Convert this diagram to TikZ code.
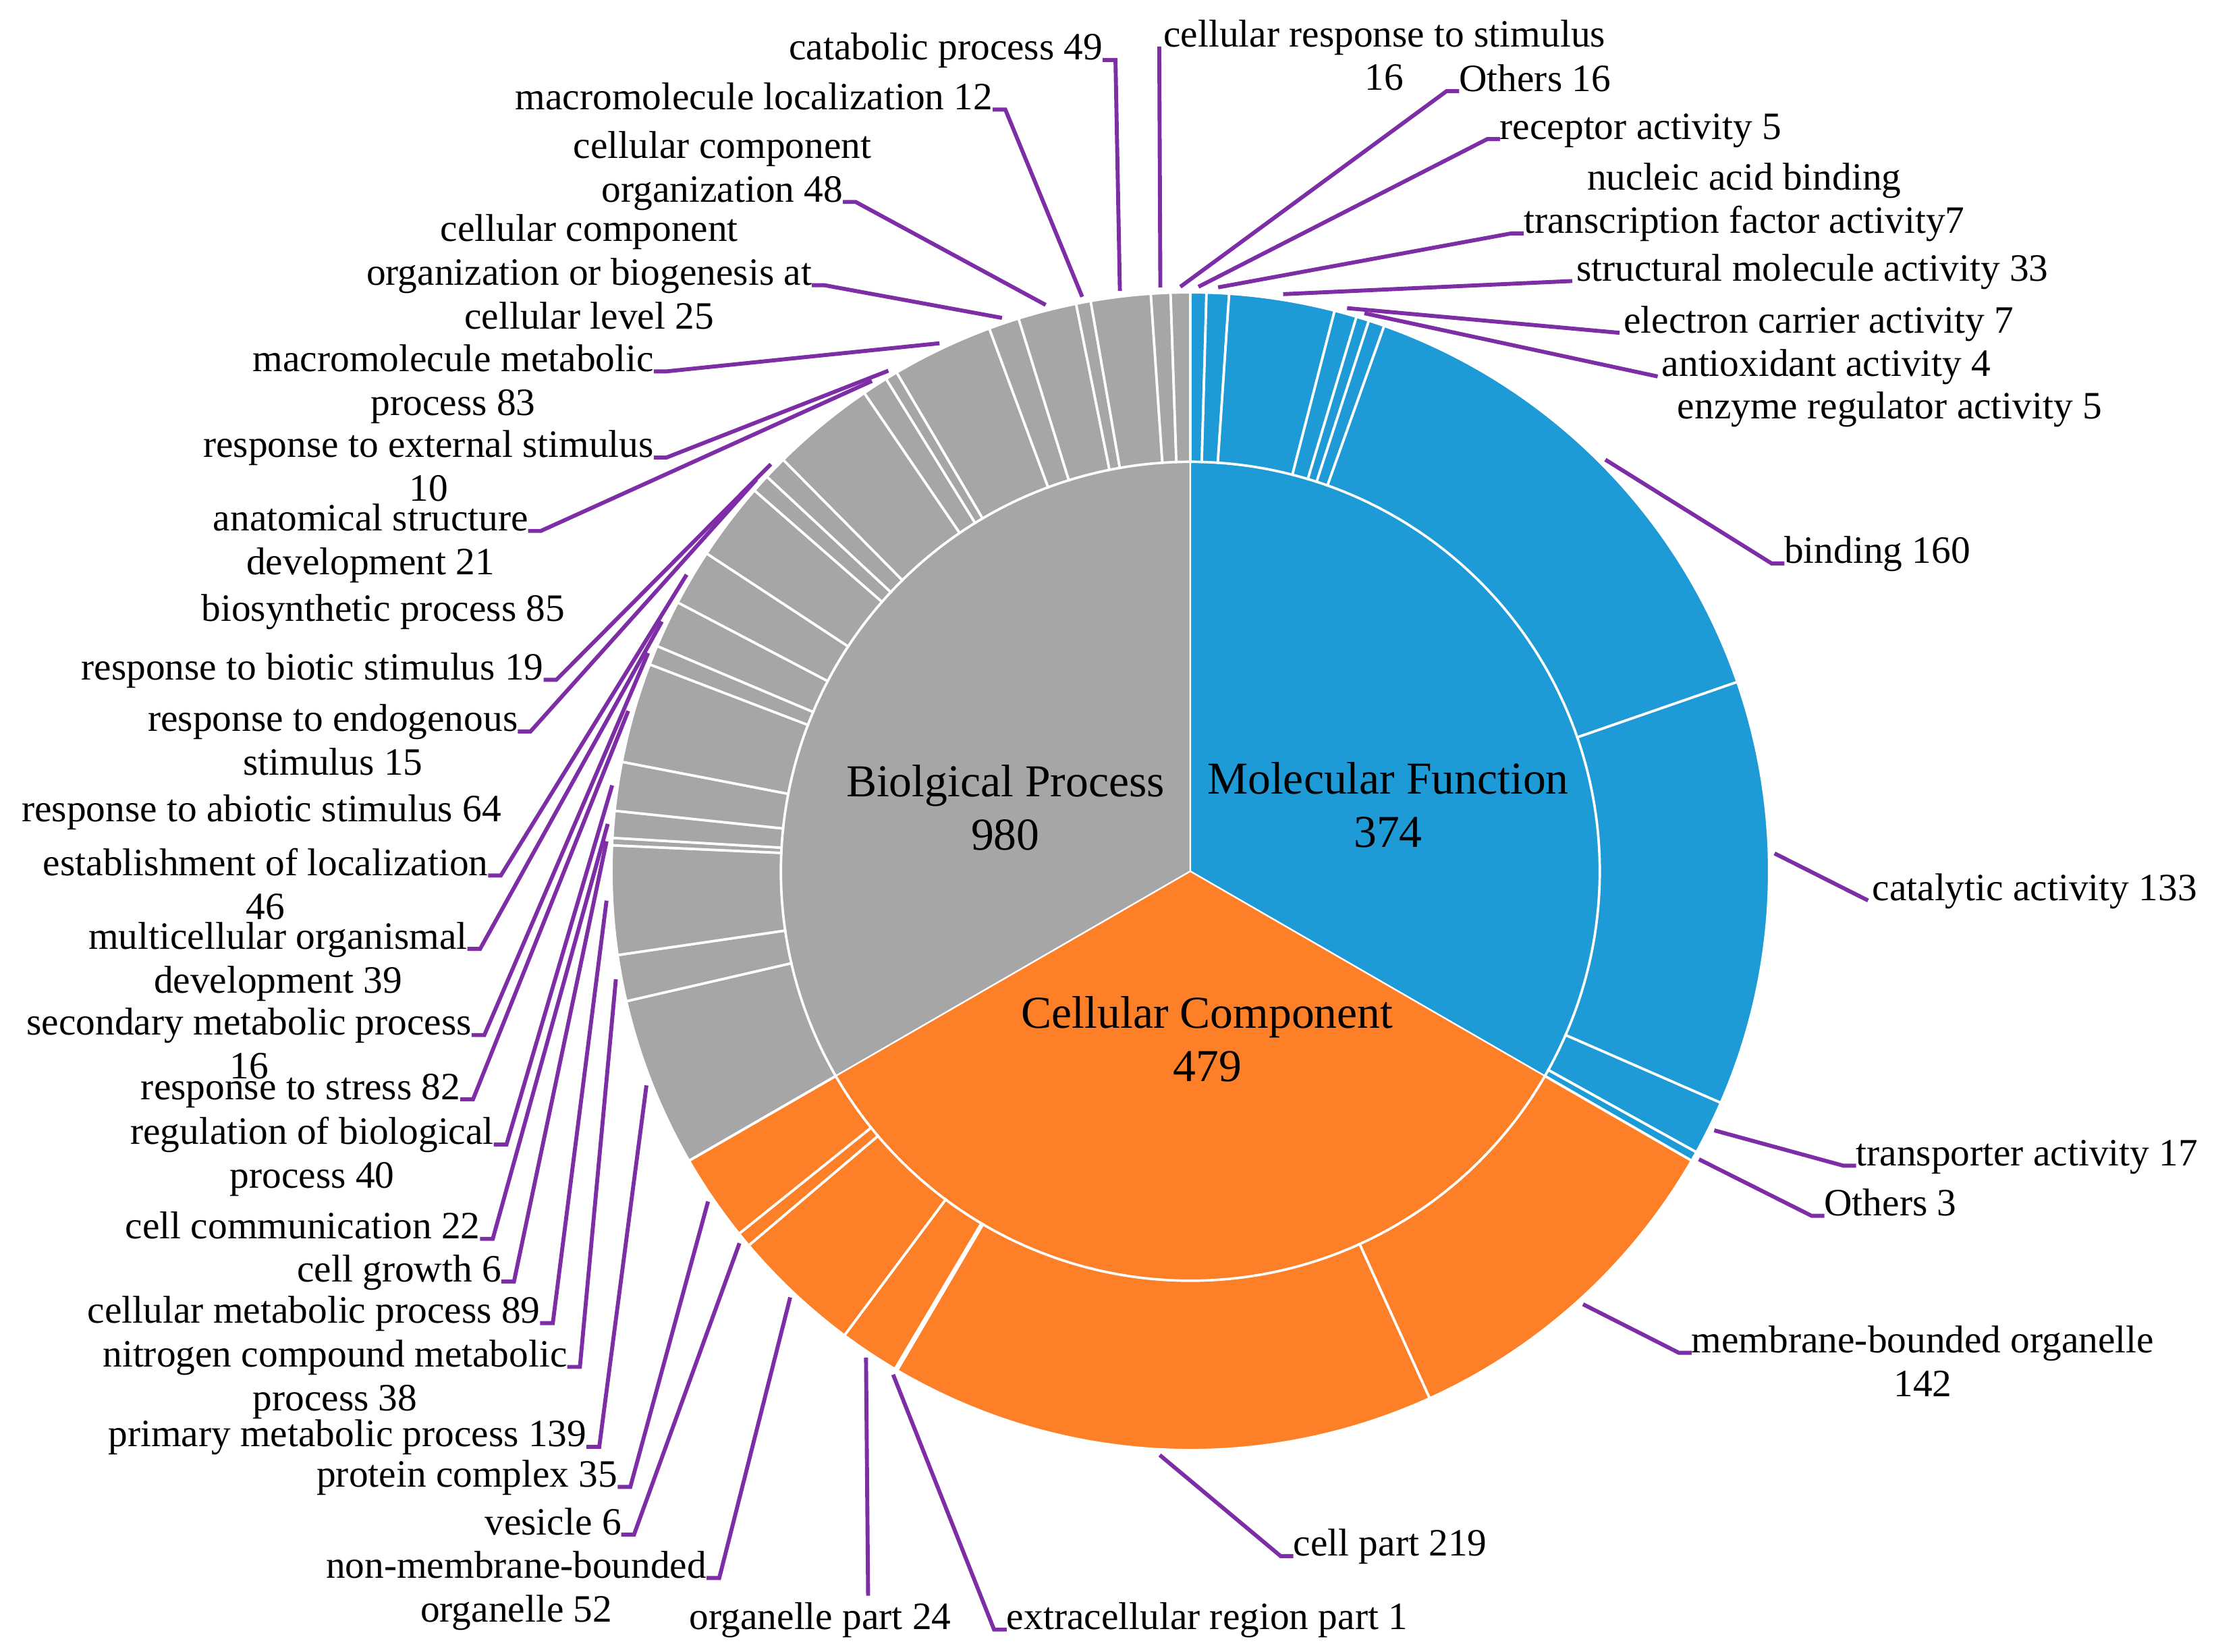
\documentclass[tikz,border=0pt]{standalone}
\usepackage{fontspec}
\setmainfont{Liberation Serif}
\usetikzlibrary{calc}
\definecolor{gr}{RGB}{166,166,166}
\definecolor{bl}{RGB}{30,155,215}
\definecolor{orn}{RGB}{253,127,39}
\definecolor{pu}{RGB}{125,45,165}
\newcommand\sunring[4]{%
  \xdef\curA{#1}%
  \foreach \v in {#4}{%
    \pgfmathsetmacro\nxt{\curA-\v*#2}%
    \fill[#3,draw=white,line width=2.5pt] ($(C)+(\curA:20.5cm)$) arc[start angle=\curA,end angle=\nxt,radius=20.5cm]
      -- ($(C)+(\nxt:14.5cm)$) arc[start angle=\nxt,end angle=\curA,radius=14.5cm] -- cycle;
    \xdef\curA{\nxt}%
  }}
\newcommand\labL[5]{%
  \node[lab,anchor=base east] (#1) at (#3-9,#4) {#5};
  \coordinate (#1-p) at ($(C)+(#2:20.7cm)$);
  \draw[lead] (#1-p) -- ([xshift=0.45cm]#1.base east) -- (#1.base east);}
\newcommand\labR[5]{%
  \node[lab,anchor=base west] (#1) at (#3+9,#4) {#5};
  \coordinate (#1-p) at ($(C)+(#2:20.7cm)$);
  \draw[lead] (#1-p) -- ([xshift=-0.45cm]#1.base west) -- (#1.base west);}
\newcommand\labN[5]{%
  \node[lab,anchor=base west] (#1) at (#3+3,#4) {#5};
  \coordinate (#1-p) at ($(C)+(#2:20.7cm)$);
  \draw[lead] (#1-p) -- ([xshift=-0.15cm]#1.base west);}
\begin{document}
\begin{tikzpicture}[x=0.05cm,y=-0.05cm,
  lab/.style={inner sep=0pt,outer sep=0pt,font=\fontsize{39}{44}\selectfont},
  big/.style={align=center,font=\fontsize{46}{54}\selectfont},
  lead/.style={draw=pu,line width=4pt}]
\useasboundingbox (0,0) rectangle (1568,1169.5);
\coordinate (C) at (843,617);
% inner pie
\fill[gr,draw=white,line width=1.5pt] (C) -- ($(C)+(90:14.5cm)$) arc[start angle=90,end angle=210,radius=14.5cm] -- cycle;
\fill[bl,draw=white,line width=1.5pt] (C) -- ($(C)+(-30:14.5cm)$) arc[start angle=-30,end angle=90,radius=14.5cm] -- cycle;
\fill[orn,draw=white,line width=1.5pt] (C) -- ($(C)+(210:14.5cm)$) arc[start angle=210,end angle=330,radius=14.5cm] -- cycle;
% outer rings
\sunring{90}{0.320856}{bl}{5,7,33,7,4,5,160,133,17,3}
\sunring{-30}{0.250522}{orn}{142,219,1,24,52,6,35}
\sunring{210}{0.122449}{gr}{139,38,89,6,22,40,82,16,39,46,64,15,19,85,21,10,83,25,48,12,49,16,16}
% centre labels
\node[big] (bp) at (712,572) {Biolgical Process\\980};
\node[big] (mf) at (983,570) {Molecular Function\\374};
\node[big] (cc) at (855,736) {Cellular Component\\479};
% BP labels
\labL{a1}{201.49}{424.4}{1024.6}{primary metabolic process 139}
\labL{a2}{190.65}{410.7}{968}{nitrogen compound metabolic}
\node[lab,anchor=base] (a2b) at ([yshift=-1.55cm]a2.base) {process 38};
\labL{a3}{182.88}{391.5}{937}{cellular metabolic process 89}
\labL{a4}{177.06}{364}{907.6}{cell growth 6}
\labL{a5}{175.35}{349}{877.3}{cell communication 22}
\labL{a6}{171.55}{358.7}{810.5}{regulation of biological}
\node[lab,anchor=base] (a6b) at ([yshift=-1.55cm]a6.base) {process 40};
\labL{a7}{164.08}{335}{778.5}{response to stress 82}
\labL{a8}{158.08}{343}{733}{secondary metabolic process}
\node[lab,anchor=base] (a8b) at ([yshift=-1.55cm]a8.base) {16};
\labL{a9}{154.71}{340}{672}{multicellular organismal}
\node[lab,anchor=base] (a9b) at ([yshift=-1.55cm]a9.base) {development 39};
\labL{a10}{149.51}{354.7}{620}{establishment of localization}
\node[lab,anchor=base] (a10b) at ([yshift=-1.55cm]a10.base) {46};
\node[lab,anchor=base east] (a11) at (355,582) {response to abiotic stimulus 64};
\labL{a12}{137.94}{375.7}{518}{response to endogenous}
\node[lab,anchor=base] (a12b) at ([yshift=-1.55cm]a12.base) {stimulus 15};
\labL{a13}{135.86}{394}{481.4}{response to biotic stimulus 19}
\node[lab,anchor=base east] (a14) at (400,440) {biosynthetic process 85};
\labL{a15}{123.0}{383}{376}{anatomical structure}
\node[lab,anchor=base] (a15b) at ([yshift=-1.55cm]a15.base) {development 21};
\labL{a16}{121.1}{472}{324}{response to external stimulus}
\node[lab,anchor=base] (a16b) at ([yshift=-1.55cm]a16.base) {10};
\labL{a17}{115.41}{472}{263}{macromolecule metabolic}
\node[lab,anchor=base] (a17b) at ([yshift=-1.55cm]a17.base) {process 83};
\labL{a18}{108.8}{584}{202}{organization or biogenesis at}
\node[lab,anchor=base] (a18a) at ([yshift=1.55cm]a18.base) {cellular component};
\node[lab,anchor=base] (a18b) at ([yshift=-1.55cm]a18.base) {cellular level 25};
\labL{a19}{104.33}{606}{143}{organization 48}
\node[lab,anchor=base] (a19a) at ([yshift=1.55cm]a19.base) {cellular component};
\labL{a20}{100.66}{712}{77.6}{macromolecule localization 12}
\labL{a21}{96.92}{790}{42.5}{catabolic process 49}
\labN{a22}{92.94}{821}{33}{cellular response to stimulus}
\node[lab,anchor=base] (a22b) at ([yshift=-1.55cm]a22.base) {16};
\labR{a23}{90.98}{1024.4}{64.6}{Others 16}
% MF labels
\labR{m1}{89.20}{1053.3}{98.5}{receptor activity 5}
\labR{m2}{87.27}{1070.2}{165.3}{transcription factor activity7}
\node[lab,anchor=base] (m2a) at ([yshift=1.55cm]m2.base) {nucleic acid binding};
\labN{m3}{80.86}{1113.5}{199}{structural molecule activity 33}
\labN{m4}{74.44}{1147}{235.7}{electron carrier activity 7}
\labN{m5}{72.67}{1174}{266.6}{antioxidant activity 4}
\node[lab,anchor=base west] (m6) at (1188,296.5) {enzyme regulator activity 5};
\labR{m7}{44.76}{1254.7}{399}{binding 160}
\labN{m8}{1.75}{1323}{637.7}{catalytic activity 133}
\labR{m9}{-26.31}{1305.5}{825.5}{transporter activity 17}
\labR{m10}{-29.52}{1283}{861}{Others 3}
% CC labels
\labR{c1}{-47.79}{1189}{958}{membrane-bounded organelle}
\node[lab,anchor=base] (c1b) at ([yshift=-1.55cm]c1.base) {142};
\labR{c2}{-93.0}{907}{1102}{cell part 219}
\labR{c3}{-120.56}{704}{1154}{extracellular region part 1}
\node[lab,anchor=base] (c4) at (581,1154) {organelle part 24};
\coordinate (c4-p) at ($(C)+(-123.7:20.7cm)$);
\coordinate (c4-e) at (614.8,1130);
\draw[lead] (c4-p) -- (c4-e);
\labL{c5}{-133.2}{509.4}{1117.5}{non-membrane-bounded}
\node[lab,anchor=base] (c5b) at ([yshift=-1.55cm]c5.base) {organelle 52};
\labL{c6}{-140.48}{449}{1086.8}{vesicle 6}
\labL{c7}{-145.6}{446.4}{1053}{protein complex 35}
\end{tikzpicture}
\end{document}
